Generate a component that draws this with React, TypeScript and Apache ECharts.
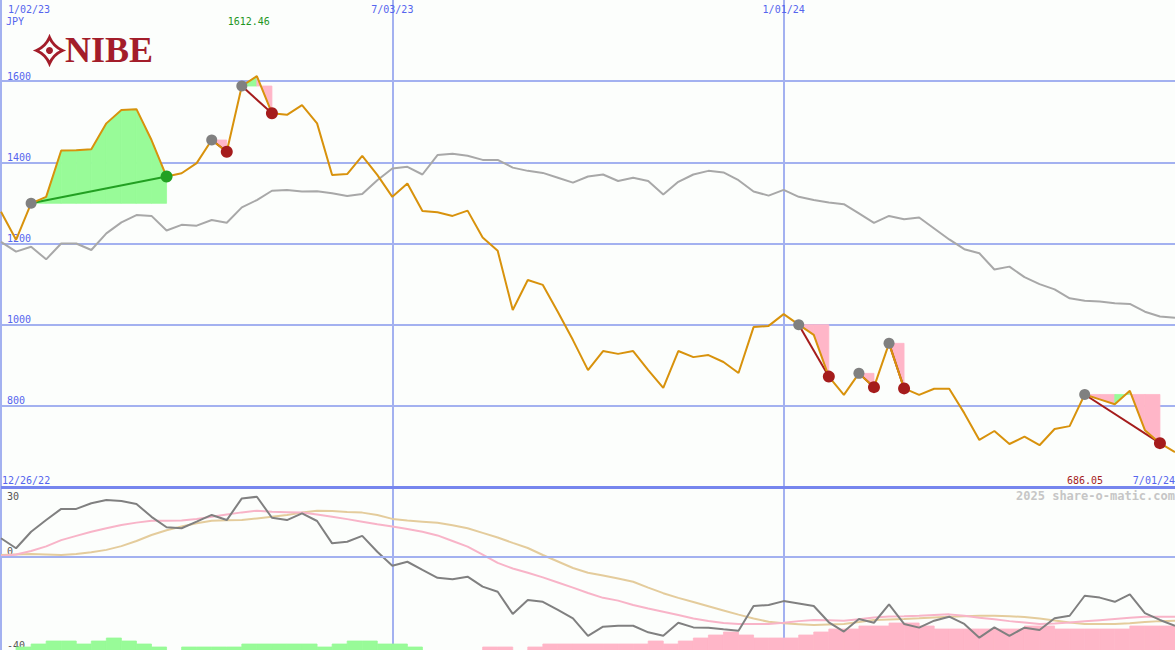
import React, { useEffect, useRef } from 'react';
import * as echarts from 'echarts';

// ---------- data ----------
const DATE_TICK_LABELS = ['1/02/23', '7/03/23', '1/01/24'];
const DATE_TICK_INDEX = [0, 26, 52];
const START_LABEL = '12/26/22';
const END_LABEL = '7/01/24';
const CURRENCY = 'JPY';
const BRAND = 'NIBE';
const WATERMARK = '2025 share-o-matic.com';
const LOWER_LABELS = [30, 0, -40];

// weekly close, 1/02/23 .. 7/01/24
const PRICE = [
  1278, 1209, 1299, 1315, 1429, 1430, 1432, 1496, 1529, 1531,
  1455, 1365, 1373, 1398, 1455, 1426, 1588, 1612.46, 1521, 1517,
  1541, 1496, 1369, 1371, 1416, 1369, 1315, 1348, 1280, 1277,
  1268, 1281, 1215, 1182, 1036, 1110, 1098, 1031, 962, 888,
  935, 928, 935, 888, 844, 935, 920, 925, 908, 881,
  994, 997, 1026, 1000, 975, 872, 827, 880, 846, 954,
  843, 827, 842, 842, 782, 716, 738, 706, 724, 703,
  743, 750, 828, 816, 804, 837, 740, 708, 686.05,
];

// relative-strength comparison line (scaled to price axis)
const REL = [
  1204, 1180, 1192, 1161, 1200, 1200, 1184, 1225, 1252, 1270,
  1268, 1232, 1246, 1244, 1258, 1251, 1289, 1307, 1330, 1332,
  1328, 1329, 1324, 1317, 1322, 1356, 1385, 1389, 1370, 1418,
  1421, 1416, 1406, 1406, 1387, 1379, 1374, 1362, 1350, 1365,
  1370, 1354, 1362, 1354, 1321, 1352, 1370, 1379, 1375, 1356,
  1328, 1318, 1332, 1315, 1307, 1301, 1297, 1274, 1251, 1268,
  1260, 1264, 1237, 1210, 1186, 1176, 1136, 1143, 1117, 1100,
  1087, 1065, 1059, 1057, 1053, 1051, 1032, 1020, 1017,
];

// lower panel: momentum and its two averages
const MOM = [
  8.0, 3.7, 10.8, 15.8, 20.6, 20.6, 23.0, 24.4, 24.0, 22.7,
  17.2, 12.7, 12.3, 15.1, 18.0, 15.8, 25.1, 25.8, 16.8, 15.8,
  18.7, 15.4, 5.8, 6.5, 9.0, 2.2, -3.8, -2.1, -5.6, -9.0,
  -9.6, -8.5, -12.8, -15.0, -24.5, -18.5, -19.3, -22.8, -26.4, -33.9,
  -30.0, -29.6, -29.6, -32.4, -33.9, -28.3, -30.3, -30.4, -31.1, -31.7,
  -21.1, -20.7, -19.0, -20.0, -21.1, -28.1, -32.1, -26.7, -28.3, -20.4,
  -28.8, -30.4, -27.4, -25.7, -28.8, -34.7, -30.3, -33.9, -30.4, -31.4,
  -26.4, -25.3, -16.7, -17.5, -19.3, -16.1, -24.2, -27.1, -29.6,
];
const MA_FAST = [
  0.4, 1.0, 2.5, 4.5, 7.2, 9.0, 10.8, 12.3, 13.7, 14.7,
  15.5, 15.5, 15.6, 16.3, 17.2, 18.2, 19.1, 19.8, 19.4, 19.2,
  19.0, 18.2, 17.2, 16.2, 15.1, 14.0, 13.0, 12.0, 10.8, 9.2,
  6.8, 4.4, 1.0, -2.6, -5.0, -6.8, -8.8, -11.0, -13.2, -15.5,
  -17.6, -18.8, -20.7, -22.2, -23.6, -25.0, -26.5, -27.5, -28.4, -28.8,
  -28.8, -28.8, -28.3, -27.6, -27.1, -27.2, -27.4, -26.8, -26.0, -25.6,
  -25.5, -25.3, -25.0, -24.7, -25.3, -26.1, -26.8, -27.6, -28.2, -28.8,
  -28.6, -28.2, -27.7, -27.2, -26.7, -26.2, -25.7, -25.7, -25.7,
];
const MA_SLOW = [
  0.8, 1.0, 1.2, 1.0, 0.8, 1.2, 2.0, 3.0, 4.6, 6.8,
  9.4, 11.4, 13.0, 14.4, 15.5, 15.7, 15.8, 16.5, 17.2, 18.0,
  19.0, 19.8, 19.7, 19.3, 19.0, 18.0, 16.3, 15.6, 15.1, 14.6,
  13.6, 12.3, 10.3, 8.3, 6.0, 3.8, 0.8, -2.0, -4.8, -6.8,
  -8.0, -9.3, -10.7, -13.2, -15.6, -17.6, -19.4, -21.2, -23.0, -24.8,
  -26.5, -27.9, -28.5, -28.9, -29.3, -29.0, -28.8, -28.0, -27.1, -26.9,
  -26.7, -26.4, -26.0, -25.7, -25.5, -25.3, -25.3, -25.5, -25.8, -26.5,
  -27.3, -28.2, -28.8, -28.8, -28.8, -28.5, -28.0, -27.6, -27.4,
];
// histogram steps between consecutive weeks (+ green, - pink)
const HIST = [
  0, 1, 2, 3, 3, 2, 3, 4, 3, 2,
  1, 0, 1, 1, 1, 1, 2, 2, 2, 2,
  2, 1, 2, 3, 3, 2, 2, 1, 0, 0,
  0, 0, -1, -1, 0, -1, -2, -2, -2, -2,
  -2, -2, -2, -3, -2, -3, -4, -5, -6, -5,
  -4, -4, -4, -5, -6, -7, -7, -8, -8, -9,
  -9, -8, -7, -7, -7, -7, -7, -7, -8, -8,
  -7, -7, -7, -7, -7, -8, -8, -8,
];

// trade signals: entry index -> exit index
const SIGNAL_TYPE = ['buy', 'sell', 'sell', 'sell', 'sell', 'sell', 'sell'];
const SIGNAL_FROM = [2, 14, 16, 53, 57, 59, 72];
const SIGNAL_TO = [11, 15, 18, 55, 58, 60, 77];

// ---------- styles ----------
const BG = '#fcfefc';
const BLUE_TEXT = '#5565ee';
const GRID = '#a3b1f0';
const DIVIDER = '#7686ee';
const ORANGE = '#d8920c';
const REL_GREY = '#a8a8a8';
const MOM_GREY = '#808080';
const PINK_FILL = '#ffb6c8';
const GREEN_FILL = '#98fb98';
const FAST_COLOR = '#f8b4c8';
const SLOW_COLOR = '#e4cc9c';
const RED = '#a51c1c';
const GREEN_MARK = '#22a022';
const MONO = '"DejaVu Sans Mono", monospace';

function buildOption(): any {
  const fills: number[][] = [];
  const connectors: number[][] = [];
  const entries: number[][] = [];
  const exits: any[] = [];
  SIGNAL_FROM.forEach((f, s) => {
    const t = SIGNAL_TO[s];
    const entry = PRICE[f];
    for (let i = f; i < t; i++) fills.push([i, i + 1, entry, PRICE[i], PRICE[i + 1]]);
    const buy = SIGNAL_TYPE[s] === 'buy' ? 1 : 0;
    connectors.push([f, t, PRICE[f], PRICE[t], buy]);
    entries.push([f, PRICE[f]]);
    exits.push({ value: [t, PRICE[t]], itemStyle: { color: buy ? GREEN_MARK : RED, opacity: 1 } });
  });
  const idx = (arr: number[]) => arr.map((v, i) => [i, v]);
  const xAxisBase = {
    type: 'value', min: 0, max: 78, interval: 26,
    axisLabel: { show: false }, axisTick: { show: false }, axisLine: { show: false },
    splitLine: { show: true, showMaxLine: false, lineStyle: { color: GRID, width: 2 } },
  };
  return {
    animation: false,
    backgroundColor: BG,
    grid: [
      { left: 1, top: 0, width: 1175, height: 487 },
      { left: 1, top: 487, width: 1175, height: 163 },
    ],
    xAxis: [
      { ...xAxisBase, gridIndex: 0 },
      { ...xAxisBase, gridIndex: 1 },
    ],
    yAxis: [
      {
        gridIndex: 0, type: 'value', min: 600, max: 1800, interval: 200, position: 'left',
        axisLine: { show: false }, axisTick: { show: false },
        axisLabel: {
          inside: true, margin: 6, verticalAlign: 'bottom', color: BLUE_TEXT,
          fontFamily: MONO, fontSize: 10,
          formatter: (v: number) => (v === 600 || v === 1800 ? '' : String(v)),
        },
        splitLine: { show: true, showMaxLine: false, lineStyle: { color: GRID, width: 2 } },
      },
      {
        gridIndex: 1, type: 'value', min: -40, max: 30, interval: 10, position: 'left',
        axisLine: { show: false }, axisTick: { show: false }, splitLine: { show: false },
        axisLabel: {
          inside: true, margin: 6, verticalAlign: 'bottom', color: '#555555',
          fontFamily: MONO, fontSize: 10,
          formatter: (v: number) => (v !== LOWER_LABELS[0] && LOWER_LABELS.includes(v) ? String(v) : ''),
        },
      },
      {
        gridIndex: 1, type: 'value', min: -40, max: 30, interval: 10, position: 'left', offset: 0,
        axisLine: { show: false }, axisTick: { show: false }, splitLine: { show: false },
        axisLabel: {
          inside: true, margin: 6, verticalAlign: 'top', padding: [4, 0, 0, 0], color: '#555555',
          fontFamily: MONO, fontSize: 10,
          formatter: (v: number) => (v === LOWER_LABELS[0] ? String(v) : ''),
        },
      },
      { gridIndex: 1, type: 'value', min: 0, max: 163 / 3, show: false, position: 'left' },
    ],
    series: [
      {
        type: 'custom', xAxisIndex: 0, yAxisIndex: 0, z: 1, data: fills,
        encode: { x: [0, 1], y: [2, 3, 4] },
        renderItem: (_p: any, api: any) => {
          const x0 = api.value(0), x1 = api.value(1), e = api.value(2), p0 = api.value(3), p1 = api.value(4);
          const pts = [api.coord([x0, e]), api.coord([x1, e]), api.coord([x1, p1]), api.coord([x0, p0])];
          const c = p1 > e ? GREEN_FILL : PINK_FILL;
          return { type: 'polygon', shape: { points: pts }, style: { fill: c, stroke: c, lineWidth: 0.8 } };
        },
      },
      {
        type: 'line', xAxisIndex: 0, yAxisIndex: 0, z: 2, data: idx(REL), showSymbol: false,
        lineStyle: { color: REL_GREY, width: 2 },
      },
      {
        type: 'custom', xAxisIndex: 0, yAxisIndex: 0, z: 3, data: connectors,
        encode: { x: [0, 1], y: [2, 3] },
        renderItem: (_p: any, api: any) => {
          const a = api.coord([api.value(0), api.value(2)]);
          const b = api.coord([api.value(1), api.value(3)]);
          return {
            type: 'line', shape: { x1: a[0], y1: a[1], x2: b[0], y2: b[1] },
            style: { stroke: api.value(4) ? GREEN_MARK : RED, lineWidth: 2 },
          };
        },
      },
      {
        type: 'line', xAxisIndex: 0, yAxisIndex: 0, z: 4, data: idx(PRICE), showSymbol: false,
        lineStyle: { color: ORANGE, width: 2 },
      },
      {
        type: 'scatter', xAxisIndex: 0, yAxisIndex: 0, z: 5, data: entries, symbolSize: 11,
        itemStyle: { color: MOM_GREY, opacity: 1 },
      },
      {
        type: 'scatter', xAxisIndex: 0, yAxisIndex: 0, z: 6, data: exits, symbolSize: 12,
        itemStyle: { opacity: 1 },
      },
      {
        type: 'custom', xAxisIndex: 1, yAxisIndex: 3, z: 1,
        data: HIST.map((v, k) => [k, k + 1, v]),
        encode: { x: [0, 1], y: 2 },
        renderItem: (_p: any, api: any) => {
          const v = api.value(2);
          if (!v) return null;
          const a = api.coord([api.value(0), 0]);
          const b = api.coord([api.value(1), Math.abs(v)]);
          const c = v > 0 ? GREEN_FILL : PINK_FILL;
          return {
            type: 'rect', shape: { x: a[0], y: b[1], width: b[0] - a[0], height: a[1] - b[1] },
            style: { fill: c, stroke: c, lineWidth: 0.8 },
          };
        },
      },
      {
        type: 'line', xAxisIndex: 1, yAxisIndex: 1, z: 2, data: idx(MA_SLOW), showSymbol: false,
        lineStyle: { color: SLOW_COLOR, width: 2 },
        markLine: {
          silent: true, symbol: 'none', label: { show: false },
          data: [
            { yAxis: 0, lineStyle: { color: GRID, width: 2, type: 'solid' } },
            { yAxis: 30, lineStyle: { color: DIVIDER, width: 3, type: 'solid' } },
          ],
        },
      },
      {
        type: 'line', xAxisIndex: 1, yAxisIndex: 1, z: 3, data: idx(MA_FAST), showSymbol: false,
        lineStyle: { color: FAST_COLOR, width: 2 },
      },
      {
        type: 'line', xAxisIndex: 1, yAxisIndex: 1, z: 4, data: idx(MOM), showSymbol: false,
        lineStyle: { color: MOM_GREY, width: 2 },
      },
    ],
  };
}

echarts.graphic.registerShape(
  'nibeStar',
  echarts.graphic.extendPath('M0,-13 Q4,-4 13,0 Q4,4 0,13 Q-4,4 -13,0 Q-4,-4 0,-13 Z', {}) as any,
);

export default function App() {
  const ref = useRef<HTMLDivElement>(null);
  useEffect(() => {
    const el = ref.current;
    if (!el) return;
    const chart = echarts.init(el, null, { renderer: 'svg' });
    chart.setOption(buildOption());
    const px = (i: number) => chart.convertToPixel({ xAxisIndex: 0 } as any, i) as unknown as number;
    const txt = (text: string, x: number, y: number, fill: string, align = 'left', size = 10, weight = 'normal') => ({
      type: 'text', x, y, silent: true,
      style: { text, fill, align, verticalAlign: 'middle', font: `${weight} ${size}px ${MONO}` },
    });
    let maxI = 0;
    PRICE.forEach((v, i) => { if (v > PRICE[maxI]) maxI = i; });
    const last = PRICE[PRICE.length - 1];
    const W = chart.getWidth();
    const graphics: any[] = [];
    DATE_TICK_INDEX.forEach((ti, k) => {
      const x = px(ti);
      graphics.push(k === 0 ? txt(DATE_TICK_LABELS[k], x + 7, 9, BLUE_TEXT, 'left') : txt(DATE_TICK_LABELS[k], x, 9, BLUE_TEXT, 'center'));
    });
    graphics.push(txt(CURRENCY, 6, 21, BLUE_TEXT));
    graphics.push(txt(PRICE[maxI].toFixed(2), px(maxI) + 13, 21, '#1f961f', 'right'));
    graphics.push(txt(START_LABEL, 2, 480, BLUE_TEXT));
    graphics.push(txt(last.toFixed(2), 1103, 480, RED, 'right'));
    graphics.push(txt(END_LABEL, W, 480, BLUE_TEXT, 'right'));
    graphics.push(txt(WATERMARK, W, 496, '#c6c6c6', 'right', 12, 'bold'));
    graphics.push({
      type: 'group', x: 49.5, y: 50.5, silent: true,
      children: [
        { type: 'nibeStar', x: 0, y: 0, style: { fill: 'none', stroke: '#a31d2a', lineWidth: 3 } },
        { type: 'circle', shape: { cx: 0, cy: 0, r: 3.5 }, style: { fill: '#a31d2a' } },
      ],
    });
    graphics.push({
      type: 'text', x: 65, y: 50, silent: true,
      style: { text: BRAND, fill: '#a31d2a', align: 'left', verticalAlign: 'middle', font: 'bold 36px "Liberation Serif", serif' },
    });
    chart.setOption({ graphic: graphics });
    return () => chart.dispose();
  }, []);
  return <div ref={ref} style={{ position: 'absolute', left: 0, top: 0, width: 1175, height: 650 }} />;
}
